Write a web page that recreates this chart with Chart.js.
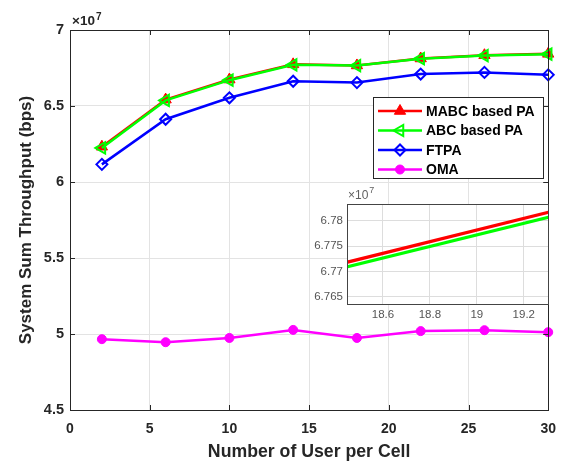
<!DOCTYPE html>
<html><head><meta charset="utf-8">
<script src="https://cdn.jsdelivr.net/npm/chart.js@4/dist/chart.umd.min.js"></script>
<style>
html,body{margin:0;padding:0;background:#fff;}
#wrap{position:relative;width:567px;height:463px;overflow:hidden;}
#main{position:absolute;left:0;top:0;}
#inset{position:absolute;left:300px;top:185px;}
</style></head><body>
<div id="wrap">
<canvas id="main" width="567" height="463"></canvas>
<canvas id="inset" width="260" height="140"></canvas>
</div>
<script>
// ---- data (bps) ----
const usersPerCell = [2, 6, 10, 14, 18, 22, 26, 30];
const mabcThroughput = [6.232e7, 6.542e7, 6.674e7, 6.774e7, 6.7667e7, 6.8126e7, 6.834e7, 6.843e7];
const abcThroughput  = [6.224e7, 6.537e7, 6.670e7, 6.771e7, 6.7658e7, 6.8114e7, 6.832e7, 6.841e7];
const ftpaThroughput = [6.116e7, 6.413e7, 6.554e7, 6.663e7, 6.654e7, 6.710e7, 6.721e7, 6.705e7];
const omaThroughput  = [4.966e7, 4.946e7, 4.974e7, 5.027e7, 4.974e7, 5.019e7, 5.025e7, 5.012e7];
const seriesNames = ['MABC based PA', 'ABC based PA', 'FTPA', 'OMA'];
const xTickValues = [0, 5, 10, 15, 20, 25, 30];
const yTickValues = [4.5e7, 5e7, 5.5e7, 6e7, 6.5e7, 7e7];
const insetXTickValues = [18.6, 18.8, 19, 19.2];
const insetYTickValues = [6.765e7, 6.77e7, 6.775e7, 6.78e7];
const insetXRange = [18.447, 19.303];
const insetYRange = [6.7636e7, 6.7833e7];
const xTitle = 'Number of User per Cell';
const yTitle = 'System Sum Throughput (bps)';

// ---- styles ----
const FONT = '"Liberation Sans", Arial, Helvetica, sans-serif';
const styles = [
  {color:'#ff0000', pointStyle:'triangle', rotation:0, radius:6.5, fill:'#ff0000', bw:1},
  {color:'#00ff00', pointStyle:'triangle', rotation:-90, radius:6.5, fill:'rgba(0,0,0,0)', bw:2},
  {color:'#0000ff', pointStyle:'rectRot', rotation:0, radius:5.5, fill:'rgba(0,0,0,0)', bw:2},
  {color:'#ff00ff', pointStyle:'circle', rotation:0, radius:4.5, fill:'#ff00ff', bw:1}
];
const seriesData = [mabcThroughput, abcThroughput, ftpaThroughput, omaThroughput];
const drawOrder = [2, 1, 3, 4];

const toPts = arr => usersPerCell.map((x, i) => ({x: x, y: arr[i]}));
const fmt = v => String(parseFloat((v / 1e7).toFixed(4)));

const mainDatasets = seriesData.map((arr, i) => ({
  label: seriesNames[i],
  data: toPts(arr),
  borderColor: styles[i].color,
  backgroundColor: styles[i].fill,
  pointBackgroundColor: styles[i].fill,
  pointBorderColor: styles[i].color,
  pointStyle: styles[i].pointStyle,
  pointRotation: styles[i].rotation,
  pointRadius: styles[i].radius,
  pointBorderWidth: styles[i].bw,
  borderWidth: 2.5,
  tension: 0,
  clip: false,
  order: drawOrder[i]
}));

const mainPlugin = {
  id: 'mainDeco',
  beforeDraw(chart) {
    const ctx = chart.ctx;
    ctx.save();
    ctx.fillStyle = '#ffffff';
    ctx.fillRect(0, 0, chart.width, chart.height);
    ctx.restore();
  },
  afterDraw(chart) {
    const ctx = chart.ctx, a = chart.chartArea;
    const xs = chart.scales.x, ys = chart.scales.y;
    ctx.save();
    ctx.strokeStyle = '#262626';
    ctx.lineWidth = 1;
    ctx.strokeRect(Math.round(a.left) + 0.5, Math.round(a.top) + 0.5,
                   Math.round(a.right) - Math.round(a.left), Math.round(a.bottom) - Math.round(a.top));
    // inward ticks
    ctx.beginPath();
    xTickValues.forEach(v => {
      const px = Math.round(xs.getPixelForValue(v)) + 0.5;
      ctx.moveTo(px, a.bottom); ctx.lineTo(px, a.bottom - 5);
      ctx.moveTo(px, a.top); ctx.lineTo(px, a.top + 5);
    });
    yTickValues.forEach(v => {
      const py = Math.round(ys.getPixelForValue(v)) + 0.5;
      ctx.moveTo(a.left, py); ctx.lineTo(a.left + 5, py);
      ctx.moveTo(a.right, py); ctx.lineTo(a.right - 5, py);
    });
    ctx.stroke();
    // exponent label
    ctx.fillStyle = '#262626';
    ctx.textBaseline = 'alphabetic';
    ctx.textAlign = 'left';
    ctx.font = 'bold 13.5px ' + FONT;
    ctx.fillText('\u00d710', a.left + 2, a.top - 5);
    const w = ctx.measureText('\u00d710').width;
    ctx.font = 'bold 10px ' + FONT;
    ctx.fillText('7', a.left + 3 + w, a.top - 10);
    // legend
    const lx = 373, ly = 97, lw = 170, lh = 81;
    ctx.fillStyle = '#ffffff';
    ctx.fillRect(lx, ly, lw, lh);
    ctx.strokeStyle = '#262626';
    ctx.lineWidth = 1;
    ctx.strokeRect(lx + 0.5, ly + 0.5, lw, lh);
    const rowY = [111, 130.5, 150, 169.5];
    seriesNames.forEach((name, i) => {
      const s = styles[i], y = rowY[i];
      ctx.strokeStyle = s.color;
      ctx.lineWidth = 2.5;
      ctx.beginPath(); ctx.moveTo(378, y); ctx.lineTo(422, y); ctx.stroke();
      ctx.fillStyle = s.fill;
      ctx.strokeStyle = s.color;
      ctx.lineWidth = s.bw;
      Chart.helpers.drawPoint(ctx, {pointStyle: s.pointStyle, rotation: s.rotation, radius: s.radius, borderWidth: s.bw}, 400, y);
      ctx.fillStyle = '#000000';
      ctx.font = 'bold 14px ' + FONT;
      ctx.textBaseline = 'middle';
      ctx.textAlign = 'left';
      ctx.fillText(name, 426, y + 1);
    });
    ctx.restore();
  }
};

new Chart(document.getElementById('main'), {
  type: 'line',
  data: {datasets: mainDatasets},
  options: {
    responsive: false, animation: false, devicePixelRatio: 1,
    layout: {padding: {top: 30, right: 17, left: 0, bottom: 0}},
    plugins: {legend: {display: false}, tooltip: {enabled: false}},
    scales: {
      x: {
        type: 'linear', min: 0, max: 30,
        afterBuildTicks: s => { s.ticks = xTickValues.map(v => ({value: v})); },
        afterFit: s => { s.height = 53; },
        grid: {color: '#e3e3e3', drawTicks: false},
        border: {display: true, color: '#262626'},
        ticks: {padding: 11, color: '#262626', font: {family: FONT, size: 14, weight: 'bold'}, maxRotation: 0,
                callback: v => String(v)},
        title: {display: true, text: xTitle, color: '#262626', padding: {top: 0, bottom: 0},
                font: {family: FONT, size: 17.7, weight: 'bold'}}
      },
      y: {
        type: 'linear', min: 4.5e7, max: 7e7,
        afterBuildTicks: s => { s.ticks = yTickValues.map(v => ({value: v})); },
        afterFit: s => { s.width = 70; },
        grid: {color: '#e3e3e3', drawTicks: false},
        border: {display: true, color: '#262626'},
        ticks: {padding: 6, color: '#262626', font: {family: FONT, size: 14.5, weight: 'bold'}, callback: v => fmt(v)},
        title: {display: true, text: yTitle, color: '#262626', padding: {top: 16, bottom: 0},
                font: {family: FONT, size: 17, weight: 'bold'}}
      }
    }
  },
  plugins: [mainPlugin]
});

// ---- inset ----
const insetDatasets = [0, 1].map(i => ({
  label: seriesNames[i],
  data: toPts(seriesData[i]),
  borderColor: styles[i].color,
  borderWidth: 3.2,
  pointRadius: 0,
  tension: 0,
  clip: 0,
  order: i === 0 ? 1 : 2
}));

const insetPlugin = {
  id: 'insetDeco',
  beforeDraw(chart) {
    const ctx = chart.ctx, a = chart.chartArea;
    ctx.save();
    ctx.fillStyle = '#ffffff';
    ctx.fillRect(a.left, a.top, a.right - a.left, a.bottom - a.top);
    ctx.restore();
  },
  afterDraw(chart) {
    const ctx = chart.ctx, a = chart.chartArea;
    ctx.save();
    ctx.strokeStyle = '#444444';
    ctx.lineWidth = 1;
    ctx.strokeRect(Math.round(a.left) + 0.5, Math.round(a.top) + 0.5,
                   Math.round(a.right) - Math.round(a.left), Math.round(a.bottom) - Math.round(a.top));
    ctx.fillStyle = '#606060';
    ctx.textBaseline = 'alphabetic';
    ctx.textAlign = 'left';
    ctx.font = '12px ' + FONT;
    ctx.fillText('\u00d710', a.left + 1, a.top - 5);
    const w = ctx.measureText('\u00d710').width;
    ctx.font = '9px ' + FONT;
    ctx.fillText('7', a.left + 2 + w, a.top - 11);
    ctx.restore();
  }
};

new Chart(document.getElementById('inset'), {
  type: 'line',
  data: {datasets: insetDatasets},
  options: {
    responsive: false, animation: false, devicePixelRatio: 1,
    layout: {padding: {top: 19, right: 12, left: 0, bottom: 0}},
    plugins: {legend: {display: false}, tooltip: {enabled: false}},
    scales: {
      x: {
        type: 'linear', min: insetXRange[0], max: insetXRange[1],
        afterBuildTicks: s => { s.ticks = insetXTickValues.map(v => ({value: v})); },
        afterFit: s => { s.height = 21; },
        grid: {color: '#dddddd', drawTicks: false},
        border: {display: false},
        ticks: {padding: 4, color: '#555555', font: {family: FONT, size: 11.5}, maxRotation: 0, callback: v => String(v)}
      },
      y: {
        type: 'linear', min: insetYRange[0], max: insetYRange[1],
        afterBuildTicks: s => { s.ticks = insetYTickValues.map(v => ({value: v})); },
        afterFit: s => { s.width = 47; },
        grid: {color: '#dddddd', drawTicks: false},
        border: {display: false},
        ticks: {padding: 4, color: '#555555', font: {family: FONT, size: 11.5}, callback: v => fmt(v)}
      }
    }
  },
  plugins: [insetPlugin]
});
</script>
</body></html>
